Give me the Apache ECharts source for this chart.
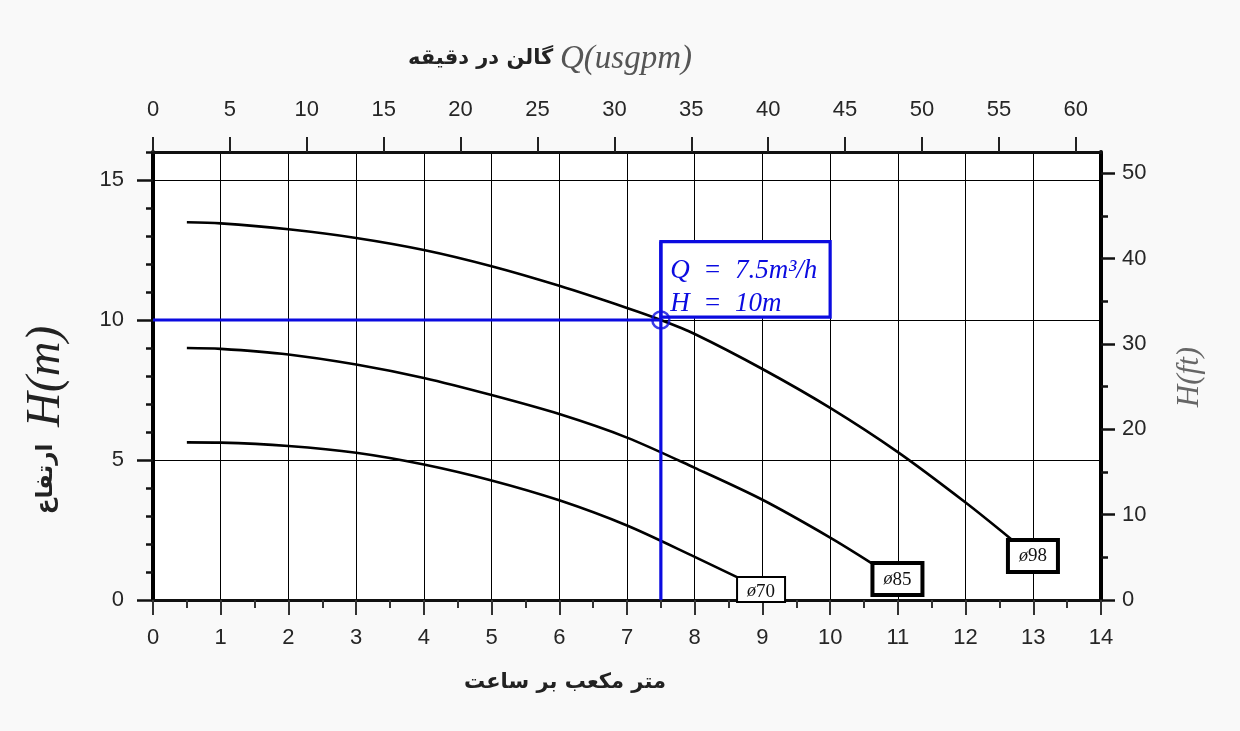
<!DOCTYPE html>
<html>
<head>
<meta charset="utf-8">
<script src="https://cdn.jsdelivr.net/npm/echarts@6/dist/echarts.min.js"></script>
<style>
  html, body { margin: 0; padding: 0; background: #f9f9f9; }
  #chart { width: 1240px; height: 731px; }
</style>
</head>
<body>
<div id="chart"></div>
<script>
// ---- data ----
const curveNames = ['ø70', 'ø85', 'ø98'];
const q70 = [0.5, 1, 2, 3, 4, 5, 6, 7, 8, 8.64];
const h70 = [5.63, 5.62, 5.50, 5.26, 4.84, 4.27, 3.56, 2.66, 1.54, 0.80];
const q85 = [0.5, 1, 2, 3, 4, 5, 6, 7, 8, 9, 10, 10.61];
const h85 = [9.00, 8.97, 8.77, 8.41, 7.93, 7.32, 6.64, 5.80, 4.72, 3.58, 2.23, 1.32];
const q98 = [0.5, 1, 2, 3, 4, 5, 6, 7, 7.5, 8, 9, 10, 11, 12, 12.67];
const h98 = [13.49, 13.45, 13.24, 12.93, 12.50, 11.92, 11.22, 10.43, 10.0, 9.50, 8.25, 6.86, 5.28, 3.48, 2.18];
const dutyQ = 7.5;   // m3/h
const dutyH = 10;    // m
const boxQ = [7.5, 10];
const boxH = [10.1, 12.8];
const yTicksM = [0, 5, 10, 15];
const gpmTicks = [0, 5, 10, 15, 20, 25, 30, 35, 40, 45, 50, 55, 60];
const ftMajor = [0, 10, 20, 30, 40, 50];
const ftMinor = [5, 15, 25, 35, 45];
const M3H_TO_GPM = 4.40287;
const M_TO_FT = 3.28084;
const X_MAX = 14, Y_MAX = 16;

const BLUE = '#0b0be0';
const tickFont = { fontFamily: 'Liberation Sans, Arial, sans-serif', fontSize: 22, color: '#262626' };

function zip(a, b) { return a.map((v, i) => [v, b[i]]); }

function curveSeries(name, q, h, labelOffset, border, padding) {
  return {
    type: 'line', name: name, xAxisIndex: 0, yAxisIndex: 0,
    data: zip(q, h), smooth: 0.3, symbol: 'none', z: 4,
    lineStyle: { color: '#000', width: 2.6 },
    endLabel: {
      show: true,
      formatter: () => '{i|ø}{n|' + name.slice(1) + '}',
      offset: labelOffset,
      backgroundColor: '#fff', borderColor: '#000', borderWidth: border,
      padding: padding,
      rich: {
        i: { fontFamily: 'Liberation Serif, serif', fontStyle: 'italic', fontSize: 18, color: '#111' },
        n: { fontFamily: 'Liberation Serif, serif', fontSize: 19, color: '#111' }
      }
    }
  };
}

const chart = echarts.init(document.getElementById('chart'));
chart.setOption({
  animation: false,
  backgroundColor: '#f9f9f9',
  grid: { left: 153, right: 139, top: 152, bottom: 131, show: true, backgroundColor: '#fff', borderWidth: 0 },
  xAxis: [
    {
      type: 'value', position: 'bottom', min: 0, max: X_MAX, interval: 1,
      axisLine: { onZero: false, lineStyle: { color: '#111', width: 3 } },
      axisTick: { length: 15, lineStyle: { color: '#333', width: 2 } },
      minorTick: { show: true, splitNumber: 2, length: 8, lineStyle: { color: '#333', width: 2 } },
      axisLabel: Object.assign({ margin: 27 }, tickFont),
      splitLine: { show: true, lineStyle: { color: '#000', width: 1 } }
    },
    {
      type: 'value', position: 'top', min: 0, max: X_MAX * M3H_TO_GPM,
      axisLine: { onZero: false, lineStyle: { color: '#111', width: 3 } },
      axisTick: { customValues: gpmTicks, length: 15, lineStyle: { color: '#222', width: 2 } },
      axisLabel: Object.assign({ customValues: gpmTicks, margin: 31 }, tickFont),
      splitLine: { show: false }
    }
  ],
  yAxis: [
    {
      type: 'value', position: 'left', min: 0, max: Y_MAX, interval: 5,
      axisLine: { onZero: false, lineStyle: { color: '#000', width: 4 } },
      axisTick: { customValues: yTicksM, length: 16, lineStyle: { color: '#111', width: 2.5 } },
      axisLabel: Object.assign({ customValues: yTicksM, margin: 29 }, tickFont),
      splitLine: { show: true, lineStyle: { color: '#000', width: 1 } }
    },
    {
      type: 'value', position: 'left', min: 0, max: Y_MAX, interval: 1,
      axisLine: { show: false, onZero: false },
      axisTick: { length: 7, lineStyle: { color: '#111', width: 2.5 } },
      axisLabel: { show: false },
      splitLine: { show: false }
    },
    {
      type: 'value', position: 'right', min: 0, max: Y_MAX * M_TO_FT,
      axisLine: { onZero: false, lineStyle: { color: '#000', width: 4 } },
      axisTick: { customValues: ftMajor, length: 14, lineStyle: { color: '#111', width: 2.5 } },
      axisLabel: Object.assign({ customValues: ftMajor, margin: 21 }, tickFont),
      splitLine: { show: false }
    },
    {
      type: 'value', position: 'right', min: 0, max: Y_MAX * M_TO_FT,
      axisLine: { show: false, onZero: false },
      axisTick: { customValues: ftMinor, length: 7, lineStyle: { color: '#111', width: 2.5 } },
      axisLabel: { show: false },
      splitLine: { show: false }
    }
  ],
  series: [
    curveSeries(curveNames[0], q70, h70, [-8, 12], 2, [4, 9, 0, 9]),
    curveSeries(curveNames[1], q85, h85, [-5, 16], 4, [5, 9, 4, 9]),
    curveSeries(curveNames[2], q98, h98, [-9, 17], 4, [5, 9, 4, 9]),
    {
      type: 'line', xAxisIndex: 0, yAxisIndex: 0, symbol: 'none', z: 5,
      data: [[0, dutyH], [dutyQ, dutyH]],
      lineStyle: { color: BLUE, width: 3.2 }
    },
    {
      type: 'line', xAxisIndex: 0, yAxisIndex: 0, symbol: 'none', z: 5,
      data: [[dutyQ, 0], [dutyQ, boxH[1]]],
      lineStyle: { color: BLUE, width: 3.2 }
    },
    {
      type: 'scatter', xAxisIndex: 0, yAxisIndex: 0, z: 6,
      data: [[dutyQ, dutyH]], symbol: 'circle', symbolSize: 17,
      itemStyle: { color: 'rgba(255,255,255,0)', borderColor: BLUE, borderWidth: 2.5 },
      markArea: {
        silent: true,
        itemStyle: { color: '#fff', borderColor: BLUE, borderWidth: 3.2 },
        label: {
          show: true, position: 'insideLeft', distance: 11,
          padding: [16, 0, 0, 0],
          formatter: '{t|Q  =  7.5m³/h}\n{t|H  =  10m}',
          rich: {
            t: { fontFamily: 'Liberation Serif, serif', fontStyle: 'italic', fontSize: 27, color: BLUE, lineHeight: 33 }
          }
        },
        data: [[{ coord: [boxQ[0], boxH[1]] }, { coord: [boxQ[1], boxH[0]] }]]
      }
    }
  ],
  graphic: [
    {
      type: 'text', x: 550, y: 59,
      style: {
        text: '{fa|گالن در دقیقه}  {q|Q(usgpm)}',
        align: 'center', verticalAlign: 'middle',
        rich: {
          fa: { fontFamily: 'DejaVu Sans, sans-serif', fontWeight: 'bold', fontSize: 21, fill: '#222', color: '#222' },
          q: { fontFamily: 'Liberation Serif, serif', fontStyle: 'italic', fontSize: 33, fill: '#555', color: '#555' }
        }
      }
    },
    {
      type: 'text', x: 565, y: 683,
      style: {
        text: 'متر مکعب بر ساعت', align: 'center', verticalAlign: 'middle',
        font: 'bold 21px "DejaVu Sans", sans-serif', fill: '#222'
      }
    },
    {
      type: 'text', x: 46, y: 420, rotation: Math.PI / 2,
      style: {
        text: '{fa|ارتفاع}     {h|H(m)}',
        align: 'center', verticalAlign: 'middle',
        rich: {
          fa: { fontFamily: 'DejaVu Sans, sans-serif', fontWeight: 'bold', fontSize: 23, fill: '#222', color: '#222' },
          h: { fontFamily: 'Liberation Serif, serif', fontStyle: 'italic', fontSize: 48, fill: '#222', color: '#222' }
        }
      }
    },
    {
      type: 'text', x: 1190, y: 377, rotation: Math.PI / 2,
      style: {
        text: 'H(ft)', align: 'center', verticalAlign: 'middle',
        font: 'italic 31px "Liberation Serif", serif', fill: '#666'
      }
    }
  ]
});
</script>
</body>
</html>
